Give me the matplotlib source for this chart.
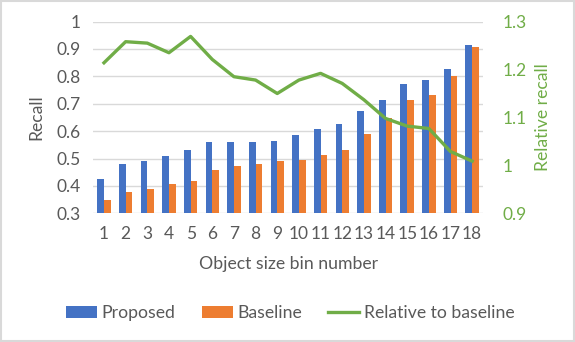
import numpy as np
import matplotlib
matplotlib.use("Agg")
import matplotlib.pyplot as plt
from matplotlib.patches import Rectangle

plt.rcParams['font.family'] = ['Lato', 'DejaVu Sans']

bins = list(range(1, 19))
proposed = [0.425, 0.479, 0.490, 0.508, 0.531, 0.560, 0.560, 0.560, 0.566,
            0.585, 0.608, 0.626, 0.674, 0.714, 0.773, 0.785, 0.826, 0.915]
baseline = [0.348, 0.378, 0.390, 0.408, 0.420, 0.460, 0.473, 0.479, 0.490,
            0.496, 0.513, 0.531, 0.590, 0.649, 0.714, 0.732, 0.803, 0.907]
relative = [1.214, 1.258, 1.255, 1.235, 1.269, 1.221, 1.185, 1.178, 1.150,
            1.178, 1.192, 1.171, 1.137, 1.098, 1.082, 1.077, 1.029, 1.009]

left_ticks = [0.3, 0.4, 0.5, 0.6, 0.7, 0.8, 0.9, 1.0]
left_labels = ['0.3', '0.4', '0.5', '0.6', '0.7', '0.8', '0.9', '1']
right_ticks = [0.9, 1.0, 1.1, 1.2, 1.3]
right_labels = ['0.9', '1', '1.1', '1.2', '1.3']

blue = '#4472C4'
orange = '#ED7D31'
green = '#70AD47'
grey = '#595959'
gridc = '#D9D9D9'

fig = plt.figure(figsize=(5.75, 3.42), dpi=100)
ax = fig.add_axes([0.162, 0.376, 0.678, 0.561])

x = np.arange(len(bins))
w = 0.31
ax.bar(x - w / 2, proposed, w, color=blue, label='Proposed', zorder=2)
ax.bar(x + w / 2, baseline, w, color=orange, label='Baseline', zorder=2)

ax.set_xlim(-0.5, len(bins) - 0.5)
ax.set_ylim(0.3, 1.0)
ax.set_yticks(left_ticks)
ax.set_yticklabels(left_labels)
ax.set_xticks(x)
ax.set_xticklabels([str(b) for b in bins])
ax.grid(axis='y', color=gridc, linewidth=1, zorder=0)
for s in ax.spines.values():
    s.set_visible(False)
ax.tick_params(length=0, labelsize=12.5, colors=grey, pad=9)
ax.tick_params(axis='y', pad=9)
ax.set_ylabel('Recall', fontsize=12.7, color=grey, labelpad=9)
ax.set_xlabel('Object size bin number', fontsize=12.7, color=grey, labelpad=10)

ax2 = ax.twinx()
ax2.plot(x, relative, color=green, linewidth=2.4, label='Relative to baseline',
         solid_joinstyle='round')
ax2.set_ylim(0.9, 1.3)
ax2.set_yticks(right_ticks)
ax2.set_yticklabels(right_labels)
for s in ax2.spines.values():
    s.set_visible(False)
ax2.tick_params(length=0, labelsize=12.5, colors=green, pad=14)
ax2.set_ylabel('Relative recall', fontsize=12.7, color=green, labelpad=6)

h1, l1 = ax.get_legend_handles_labels()
h2, l2 = ax2.get_legend_handles_labels()
fig.legend(h1 + h2, l1 + l2, loc='center', bbox_to_anchor=(0.505, 0.085), ncol=3,
           frameon=False, fontsize=12.7, handlelength=1.75, handleheight=0.65,
           handletextpad=0.25, columnspacing=1.5, labelcolor=grey)

fig.patches.append(Rectangle((0.002, 0.003), 0.996, 0.994, transform=fig.transFigure,
                             fill=False, edgecolor=gridc, linewidth=1.5))

fig.savefig('out.png', dpi=100)
